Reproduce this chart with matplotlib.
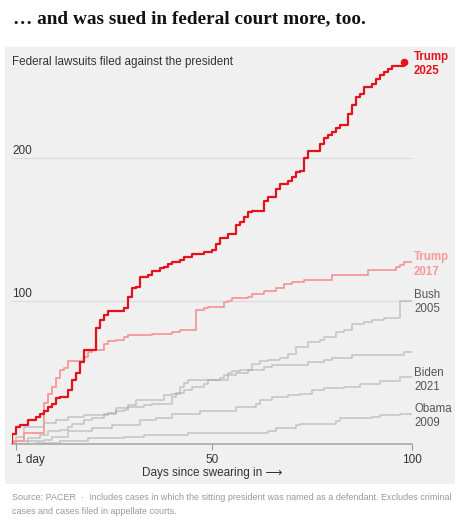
import matplotlib
matplotlib.use("Agg")
import matplotlib.pyplot as plt
from matplotlib.patches import Rectangle

# step data: day since swearing in, cumulative lawsuits
trump25_days = [0, 0, 1, 2, 4, 6, 7, 8, 9, 10, 11, 12, 14, 15, 16, 17, 18, 21, 22, 23, 24, 28,
                29, 30, 31, 32, 34, 35, 37, 38, 39, 40, 42, 43, 45, 48, 50, 51, 52, 54, 56, 57,
                58, 59, 60, 63, 64, 66, 67, 69, 70, 71, 72, 73, 74, 77, 78, 79, 80, 81, 82, 84,
                85, 86, 87, 88, 90, 91, 92, 93, 94, 95, 98]
trump25_vals = [0, 7, 12, 13, 17, 19, 21, 23, 26, 28, 32, 33, 38, 45, 50, 57, 66, 81, 87, 90, 93, 95,
                103, 109, 110, 117, 118, 121, 123, 124, 126, 127, 129, 131, 133, 134, 136, 140, 144, 147, 153, 155,
                159, 162, 163, 170, 173, 178, 182, 184, 187, 190, 191, 200, 205, 210, 214, 216, 218, 221, 223, 231,
                237, 243, 245, 250, 252, 255, 258, 260, 262, 264, 267]

trump17_days = [0, 0.5, 3, 8, 9, 10, 11, 12, 13, 14, 18, 19, 20, 23, 24, 26, 28, 29, 35, 40, 42,
                46, 48, 49, 53, 54, 55, 59, 60, 63, 66, 68, 70, 73, 80, 89, 96, 97, 98, 100]
trump17_vals = [0, 2, 8, 29, 35, 40, 46, 52, 53, 58, 61, 64, 66, 70, 72, 73, 75, 76, 77, 78, 80,
                94, 95, 96, 99, 100, 102, 103, 105, 107, 109, 112, 113, 115, 118, 122, 124, 125, 127, 127]

bush05_days = [0, 1, 3, 8, 11, 14, 18, 24, 26, 29, 31, 38, 40, 42, 43, 44, 52, 53, 54, 55, 57,
               60, 62, 64, 67, 69, 71, 74, 77, 78, 81, 83, 85, 88, 90, 93, 97, 100]
bush05_vals = [0, 5, 12, 15, 17, 19, 20, 22, 25, 27, 31, 34, 35, 40, 43, 45, 46, 48, 50, 51, 52,
               56, 58, 59, 60, 63, 68, 71, 73, 75, 78, 80, 84, 85, 87, 88, 100, 100]

other_days = [0, 1, 4, 7, 9, 12, 14, 15, 18, 20, 23, 26, 28, 29, 33, 35, 40, 41, 43, 45, 48, 49,
              54, 56, 59, 63, 65, 74, 78, 80, 85, 98, 100]
other_vals = [0, 2, 4, 6, 9, 10, 12, 14, 17, 18, 21, 23, 24, 26, 27, 28, 33, 36, 38, 40, 42, 45,
              48, 50, 52, 54, 55, 57, 59, 60, 62, 64, 64]

biden21_days = [0, 4, 8, 10, 14, 20, 25, 32, 36, 40, 47, 56, 61, 62, 65, 69, 72, 75, 78, 83, 87,
                92, 97, 100]
biden21_vals = [0, 2, 3, 5, 9, 11, 13, 17, 18, 21, 23, 26, 28, 31, 33, 34, 35, 38, 39, 40, 42,
                44, 47, 47]

obama09_days = [0, 6, 12, 19, 28, 33, 44, 64, 66, 71, 72, 81, 82, 90, 92, 97, 100]
obama09_vals = [0, 1, 2, 4, 5, 6, 8, 9, 11, 13, 14, 16, 18, 19, 20, 21, 21]

tick_days = [1, 50, 100]
tick_labels = ["1 day", "50", "100"]
grid_vals = [100, 200]

W, H = 459, 525
fig = plt.figure(figsize=(W / 100, H / 100), dpi=100)
fig.patch.set_facecolor("white")

sans = ["Liberation Sans", "DejaVu Sans"]

# grey panel behind the chart
fig.patches.append(Rectangle((5 / W, 1 - 484 / H), 450 / W, 437 / H,
                             transform=fig.transFigure, facecolor="#f0f0f0",
                             edgecolor="none", zorder=-5))

fig.text(13 / W, 1 - 19 / H, "\u2026 and was sued in federal court more, too.",
         family=["Liberation Serif", "DejaVu Serif"], fontweight="bold", fontsize=13.9,
         color="#121212", va="center", ha="left")
fig.text(12 / W, 1 - 62 / H, "Federal lawsuits filed against the president",
         family=sans, fontsize=8.4, color="#333333", va="center", ha="left")

# axes placed so that day 0 -> x=12px, day 100 -> x=412px, 0 -> y=444px, 1.43px per suit
ymax = 270
ax = fig.add_axes([12 / W, 1 - 444 / H, 400 / W, ymax * 1.43 / H])
ax.set_xlim(0, 100)
ax.set_ylim(0, ymax)
ax.patch.set_visible(False)
for s in ["top", "right", "left"]:
    ax.spines[s].set_visible(False)
ax.spines["bottom"].set_color("#aaaaaa")
ax.spines["bottom"].set_linewidth(1.2)

for g in grid_vals:
    ax.axhline(g, color="#dcdcdc", lw=0.9, zorder=1)
    ax.text(0, g + 0.8, str(g), family=sans, fontsize=8.5, color="#333333",
            ha="left", va="bottom")

grey = dict(color="#999999", alpha=0.48, lw=1.2, where="post", zorder=2)
ax.step(obama09_days, obama09_vals, **grey)
ax.step(biden21_days, biden21_vals, **grey)
ax.step(other_days, other_vals, **grey)
ax.step(bush05_days, bush05_vals, **grey)
ax.step(trump17_days, trump17_vals, color="#f89898", lw=1.3, where="post", zorder=3)
ax.step(trump25_days, trump25_vals, color="#e3121b", lw=1.6, where="post", zorder=4)
ax.plot(trump25_days[-1], trump25_vals[-1], "o", color="#e3121b", ms=4.5, zorder=5,
        clip_on=False)

lab = dict(family=sans, fontsize=8.3, ha="left", va="center", linespacing=1.25,
           clip_on=False)
ax.text(100.5, 265.5, "Trump\n2025", color="#e3121b", fontweight="bold", **lab)
ax.text(100.5, 125.5, "Trump\n2017", color="#f89898", fontweight="bold", **lab)
ax.text(100.5, 99.5, "Bush\n2005", color="#555555", **lab)
ax.text(100.5, 45, "Biden\n2021", color="#555555", **lab)
ax.text(100.5, 19.5, "Obama\n2009", color="#555555", **lab)

ax.set_yticks([])
ax.set_xticks(tick_days)
ax.set_xticklabels(tick_labels, family=sans, fontsize=8.5, color="#333333")
ax.get_xticklabels()[0].set_ha("left")
ax.tick_params(axis="x", length=4, width=0.8, color="#999999", pad=3)

fig.text(212 / W, 1 - 473 / H, "Days since swearing in \u27f6", family=sans,
         fontsize=8.5, color="#333333", ha="center", va="center")

fig.text(12 / W, 1 - 497 / H,
         "Source: PACER  \u00b7  Includes cases in which the sitting president was named as a defendant. Excludes criminal",
         family=sans, fontsize=6.5, color="#999999", ha="left", va="center")
fig.text(12 / W, 1 - 511 / H, "cases and cases filed in appellate courts.",
         family=sans, fontsize=6.5, color="#999999", ha="left", va="center")

fig.savefig("out.png", dpi=100)
